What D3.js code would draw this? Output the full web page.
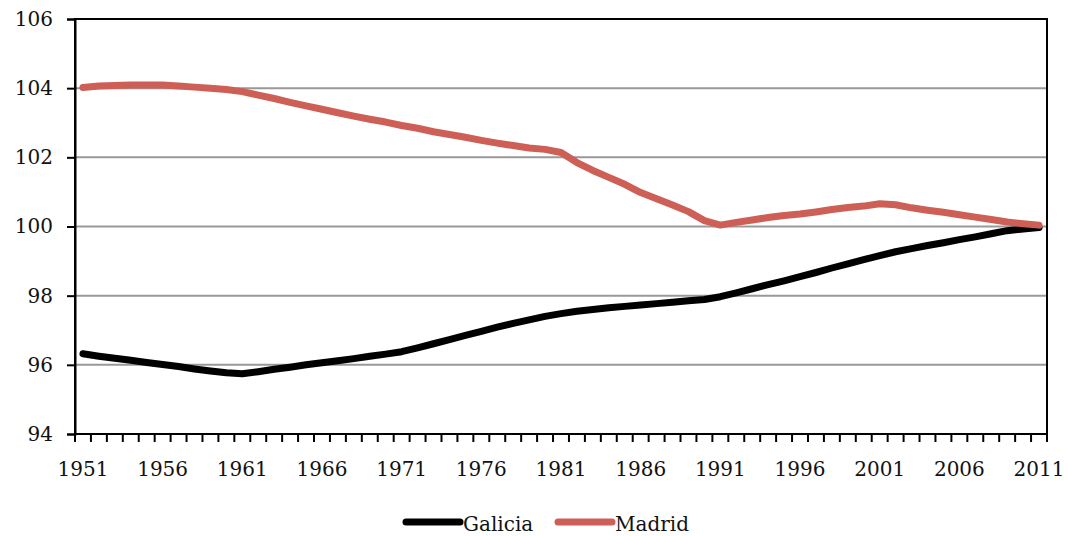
<!DOCTYPE html>
<html>
<head>
<meta charset="utf-8">
<script src="https://cdn.jsdelivr.net/npm/d3@7"></script>
<style>
  body { margin: 0; background: #fff; }
  text { font-family: "DejaVu Serif", serif; fill: #111; }
</style>
</head>
<body>
<script>
// years 1951..2011, one value per year
const years = d3.range(1951, 2012);

const galicia = [
  96.32, 96.25, 96.19, 96.13, 96.07, 96.01, 95.95, 95.88, 95.82, 95.77,
  95.74, 95.80, 95.87, 95.93, 96.00, 96.06, 96.12, 96.18, 96.25, 96.31,
  96.38, 96.49, 96.61, 96.73, 96.85, 96.97, 97.09, 97.20, 97.30, 97.40,
  97.48, 97.55, 97.60, 97.65, 97.69, 97.73, 97.77, 97.81, 97.85, 97.89,
  97.97, 98.08, 98.20, 98.32, 98.43, 98.55, 98.67, 98.80, 98.92, 99.04,
  99.16, 99.27, 99.36, 99.45, 99.53, 99.62, 99.70, 99.79, 99.88, 99.93,
  99.97
];

const madrid = [
  104.02, 104.06, 104.08, 104.09, 104.09, 104.09, 104.06, 104.03, 104.00, 103.96,
  103.90, 103.80, 103.70, 103.59, 103.49, 103.39, 103.29, 103.19, 103.10, 103.02,
  102.92, 102.84, 102.74, 102.66, 102.58, 102.49, 102.41, 102.34, 102.27, 102.23,
  102.14, 101.85, 101.62, 101.42, 101.22, 100.98, 100.80, 100.62, 100.43, 100.17,
  100.04, 100.12, 100.19, 100.26, 100.32, 100.36, 100.42, 100.49, 100.55, 100.59,
  100.66, 100.63, 100.54, 100.47, 100.41, 100.34, 100.27, 100.20, 100.13, 100.08,
  100.04
];

const yTicks = [94, 96, 98, 100, 102, 104, 106];
const xLabels = years.filter(y => (y - 1951) % 5 === 0);

const series = [
  { name: "Galicia", values: galicia, color: "#000000" },
  { name: "Madrid", values: madrid, color: "#cd5f56" }
];

const width = 1068, height = 536;
const plotLeft = 75, plotRight = 1047, plotTop = 19, plotBottom = 434;

const svg = d3.select("body").append("svg")
    .attr("width", width)
    .attr("height", height);

const band = d3.scaleBand().domain(years).range([plotLeft, plotRight]);
const x = d3.scalePoint().domain(years).range([plotLeft, plotRight]).padding(0.5);
const y = d3.scaleLinear().domain([94, 106]).range([plotBottom, plotTop]);

// gridlines
svg.append("g")
    .selectAll("line")
    .data(yTicks.slice(1, -1))
    .join("line")
    .attr("x1", plotLeft).attr("x2", plotRight)
    .attr("y1", d => y(d)).attr("y2", d => y(d))
    .attr("stroke", "#999")
    .attr("stroke-width", 2);

// plot frame
svg.append("rect")
    .attr("x", plotLeft).attr("y", plotTop)
    .attr("width", plotRight - plotLeft).attr("height", plotBottom - plotTop)
    .attr("fill", "none")
    .attr("stroke", "#000")
    .attr("stroke-width", 2);

// y axis
const yAxis = svg.append("g")
    .attr("transform", `translate(${plotLeft},0)`)
    .call(d3.axisLeft(y).tickValues(yTicks).tickSize(8).tickPadding(14));
yAxis.attr("font-family", null);
yAxis.select(".domain").attr("stroke-width", 2);
yAxis.selectAll(".tick line").attr("stroke-width", 2);
yAxis.selectAll("text").style("font-size", "20px");

// x axis: tick marks on category boundaries
const bounds = years.map(d => band(d)).concat([plotRight]);
svg.append("g")
    .selectAll("line")
    .data(bounds)
    .join("line")
    .attr("x1", d => d).attr("x2", d => d)
    .attr("y1", plotBottom).attr("y2", plotBottom + 8)
    .attr("stroke", "#000")
    .attr("stroke-width", 2);

svg.append("g")
    .selectAll("text")
    .data(xLabels)
    .join("text")
    .attr("x", d => x(d))
    .attr("y", 476)
    .attr("text-anchor", "middle")
    .style("font-size", "20px")
    .text(d => d);

// lines
const line = d3.line()
    .x((d, i) => x(years[i]))
    .y(d => y(d));

svg.append("g")
    .selectAll("path")
    .data(series)
    .join("path")
    .attr("d", d => line(d.values))
    .attr("fill", "none")
    .attr("stroke", d => d.color)
    .attr("stroke-width", 7)
    .attr("stroke-linejoin", "round")
    .attr("stroke-linecap", "round");

// legend
const legendX = [406, 558];
const legend = svg.append("g")
    .selectAll("g")
    .data(series)
    .join("g")
    .attr("transform", (d, i) => `translate(${legendX[i]},522)`);

legend.append("line")
    .attr("x1", 0).attr("x2", 54)
    .attr("stroke", d => d.color)
    .attr("stroke-width", 7)
    .attr("stroke-linecap", "round");

legend.append("text")
    .attr("x", 57)
    .attr("y", 9)
    .style("font-size", "20px")
    .text(d => d.name);
</script>
</body>
</html>
